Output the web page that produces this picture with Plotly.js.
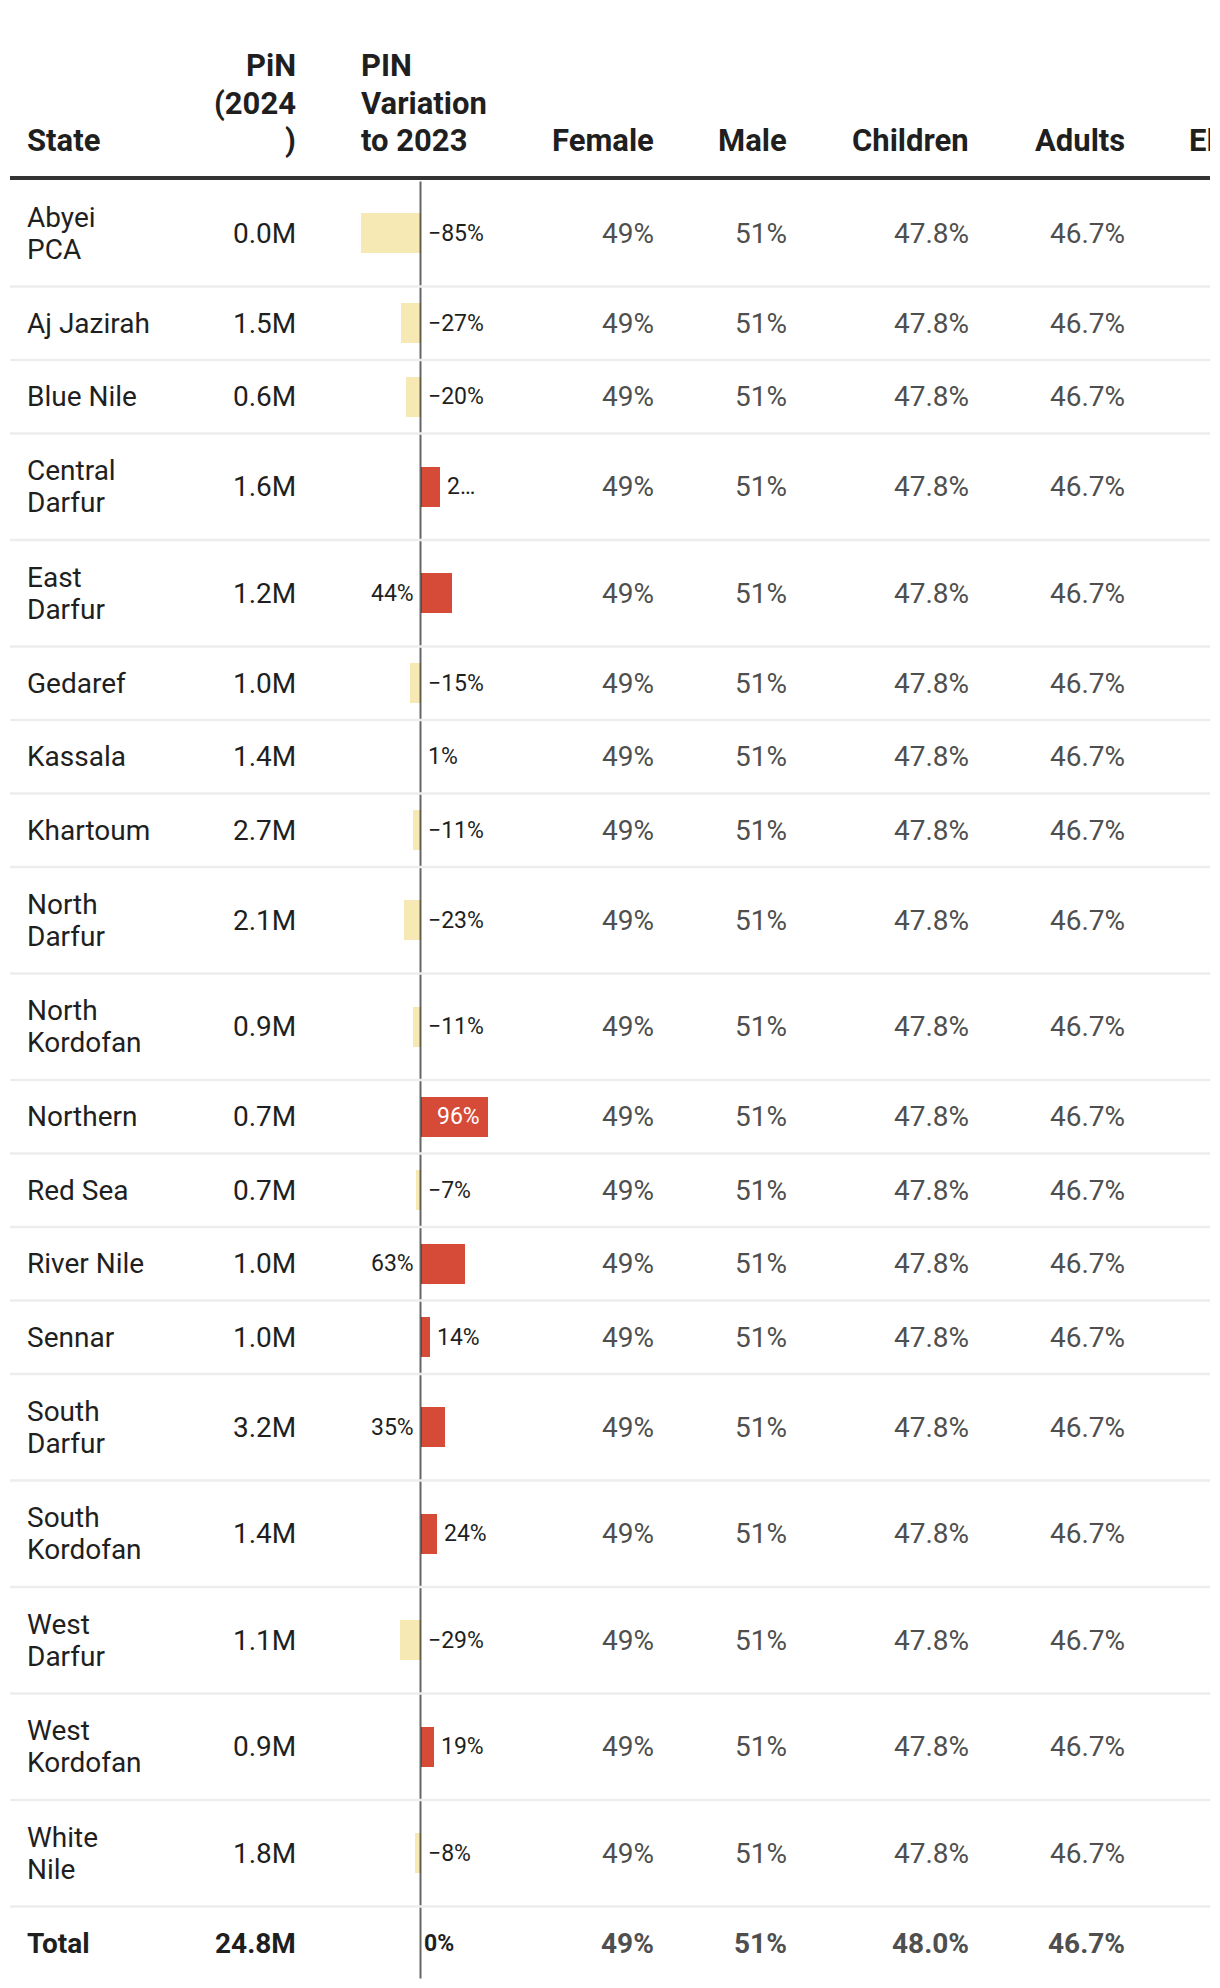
<!DOCTYPE html>
<html>
<head>
<meta charset="utf-8">
<script src="https://cdn.plot.ly/plotly-3.0.1.min.js"></script>
<style>
  html, body { margin: 0; padding: 0; background: #ffffff; }
  #chart { width: 1210px; height: 1988px; }
</style>
</head>
<body>
<div id="chart"></div>
<script>
// ---------------- DATA ----------------
const states = ["Abyei PCA", "Aj Jazirah", "Blue Nile", "Central Darfur", "East Darfur", "Gedaref",
  "Kassala", "Khartoum", "North Darfur", "North Kordofan", "Northern", "Red Sea", "River Nile",
  "Sennar", "South Darfur", "South Kordofan", "West Darfur", "West Kordofan", "White Nile"];
const pin2024 = [0.0, 1.5, 0.6, 1.6, 1.2, 1.0, 1.4, 2.7, 2.1, 0.9, 0.7, 0.7, 1.0, 1.0, 3.2, 1.4, 1.1, 0.9, 1.8];
const variation = [-85, -27, -20, 28, 44, -15, 1, -11, -23, -11, 96, -7, 63, 14, 35, 24, -29, 19, -8];
const female = [49, 49, 49, 49, 49, 49, 49, 49, 49, 49, 49, 49, 49, 49, 49, 49, 49, 49, 49];
const male = [51, 51, 51, 51, 51, 51, 51, 51, 51, 51, 51, 51, 51, 51, 51, 51, 51, 51, 51];
const children = [47.8, 47.8, 47.8, 47.8, 47.8, 47.8, 47.8, 47.8, 47.8, 47.8, 47.8, 47.8, 47.8, 47.8, 47.8, 47.8, 47.8, 47.8, 47.8];
const adults = [46.7, 46.7, 46.7, 46.7, 46.7, 46.7, 46.7, 46.7, 46.7, 46.7, 46.7, 46.7, 46.7, 46.7, 46.7, 46.7, 46.7, 46.7, 46.7];
const totalLabel = "Total";
const totalPin = 24.8;
const totalVariation = 0;
const totalFemale = 49;
const totalMale = 51;
const totalChildren = 48.0;
const totalAdults = 46.7;
const headerLabels = {
  state: ["State"],
  pin: ["PiN", "(2024", ")"],
  variation: ["PIN", "Variation", "to 2023"],
  female: ["Female"],
  male: ["Male"],
  children: ["Children"],
  adults: ["Adults"],
  elderly: ["Elderly"]
};

// ---------------- STYLE / LAYOUT ----------------
const W = 1210, H = 1988;
const FONT = "Roboto, 'Open Sans', sans-serif";
const DARK = "#1f1f1f", GRAY = "#4f4f4f";
const BODY = 28, HEAD = 31, VAR = 23;
const twoLineStates = new Set(["Abyei PCA", "Central Darfur", "East Darfur", "North Darfur", "North Kordofan",
  "South Darfur", "South Kordofan", "West Darfur", "West Kordofan", "White Nile"]);
const labelInside = new Set(["Northern"]);
const labelBeforeAxis = new Set(["East Darfur", "River Nile", "South Darfur"]);
const labelTruncated = { "Central Darfur": "2…" };

const col = { state: 26.5, pin: 295.5, varLeft: 360.6, female: 654, male: 787, children: 969, adults: 1124.7, elderly: 1189 };
const zeroPx = 420.5, pxPerPct = 0.705;
const headerLineY = 178, firstRowTop = 180;
const rowH1 = 73.5, rowH2 = 106.5, lineGap = 32;

const allNames = states.concat([totalLabel]);
const rowTops = [], rowCenters = [];
let yy = firstRowTop;
allNames.forEach(n => {
  const h = twoLineStates.has(n) ? rowH2 : rowH1;
  rowTops.push(yy); rowCenters.push(yy + h / 2); yy += h;
});
const tableBottom = yy;

const annotations = [];
function txt(x, y, text, anchor, opts) {
  opts = opts || {};
  annotations.push({
    xref: opts.xref || "x", yref: "y", x: x, y: y, text: text, showarrow: false,
    xanchor: anchor, yanchor: "middle", xshift: opts.xshift || 0,
    borderpad: 0, borderwidth: 0,
    font: { family: FONT, size: opts.size || BODY, color: opts.color || DARK }
  });
}
const B = s => "<b>" + s + "</b>";

// headers (bottom aligned, 37.5px line spacing)
const headBase = 140.5, headStep = 37.5;
function header(lines, x, anchor) {
  lines.forEach((l, i) => {
    const y = headBase - (lines.length - 1 - i) * headStep;
    txt(x, y, B(l), anchor, { size: HEAD, color: DARK });
  });
}
header(headerLabels.state, col.state, "left");
header(headerLabels.pin, col.pin, "right");
header(headerLabels.variation, col.varLeft, "left");
header(headerLabels.female, col.female, "right");
header(headerLabels.male, col.male, "right");
header(headerLabels.children, col.children, "right");
header(headerLabels.adults, col.adults, "right");
header(headerLabels.elderly, col.elderly, "left");

const fmtVar = v => (v < 0 ? "\u2212" + Math.abs(v) : String(v)) + "%";

// body rows
const rowsPin = pin2024.concat([totalPin]);
const rowsVar = variation.concat([totalVariation]);
const rowsF = female.concat([totalFemale]);
const rowsM = male.concat([totalMale]);
const rowsC = children.concat([totalChildren]);
const rowsA = adults.concat([totalAdults]);

allNames.forEach((name, i) => {
  const c = rowCenters[i];
  const isTotal = i === allNames.length - 1;
  const w = s => isTotal ? B(s) : s;
  if (twoLineStates.has(name)) {
    const k = name.indexOf(" ");
    txt(col.state, c - lineGap / 2, name.slice(0, k), "left");
    txt(col.state, c + lineGap / 2, name.slice(k + 1), "left");
  } else {
    txt(col.state, c, w(name), "left");
  }
  txt(col.pin, c, w(rowsPin[i].toFixed(1) + "M"), "right");
  txt(col.female, c, w(rowsF[i] + "%"), "right", { color: GRAY });
  txt(col.male, c, w(rowsM[i] + "%"), "right", { color: GRAY });
  txt(col.children, c, w(rowsC[i].toFixed(1) + "%"), "right", { color: GRAY });
  txt(col.adults, c, w(rowsA[i].toFixed(1) + "%"), "right", { color: GRAY });

  // variation label
  const v = rowsVar[i];
  const label = w(labelTruncated[name] || fmtVar(v));
  const o = { xref: "x2", size: VAR };
  if (isTotal) {
    txt(0, c, label, "left", Object.assign(o, { xshift: 3 }));
  } else if (v < 0) {
    txt(0, c, label, "left", Object.assign(o, { xshift: 7 }));
  } else if (labelInside.has(name)) {
    txt(v, c, label, "right", Object.assign(o, { xshift: -8, color: "#ffffff" }));
  } else if (labelBeforeAxis.has(name)) {
    txt(0, c, label, "right", Object.assign(o, { xshift: -7 }));
  } else {
    txt(v, c, label, "left", Object.assign(o, { xshift: 7 }));
  }
});

// bars
const barTrace = {
  type: "bar", orientation: "h", xaxis: "x2", yaxis: "y",
  x: rowsVar, y: rowCenters, width: 40,
  marker: { color: rowsVar.map(v => v < 0 ? "#f6e9b3" : "#d64b37"), line: { width: 0 } },
  hoverinfo: "skip", showlegend: false
};

// shapes: header rule, zero line, row separators
const shapes = [];
shapes.push({ type: "line", xref: "x", yref: "y", x0: 10, x1: W, y0: headerLineY, y1: headerLineY,
  line: { color: "#333333", width: 4 }, layer: "above" });
shapes.push({ type: "line", xref: "x2", yref: "y", x0: 0, x1: 0, y0: firstRowTop + 1.5, y1: tableBottom - 1.5,
  line: { color: "rgba(0,0,0,0.6)", width: 2 }, layer: "above" });
rowTops.slice(1).forEach(t => {
  shapes.push({ type: "line", xref: "x", yref: "y", x0: 10, x1: W, y0: t, y1: t,
    line: { color: "#ededed", width: 2.5 }, layer: "above" });
});

const layout = {
  width: W, height: H,
  margin: { l: 0, r: 0, t: 0, b: 0, pad: 0 },
  paper_bgcolor: "#ffffff", plot_bgcolor: "#ffffff",
  showlegend: false, hovermode: false, bargap: 0,
  xaxis: { range: [0, W], visible: false, fixedrange: true },
  xaxis2: { range: [-zeroPx / pxPerPct, (W - zeroPx) / pxPerPct], overlaying: "x", visible: false, fixedrange: true },
  yaxis: { range: [H, 0], visible: false, fixedrange: true },
  shapes: shapes,
  annotations: annotations
};

Plotly.newPlot("chart", [barTrace], layout, { displayModeBar: false, staticPlot: true });
</script>
</body>
</html>
